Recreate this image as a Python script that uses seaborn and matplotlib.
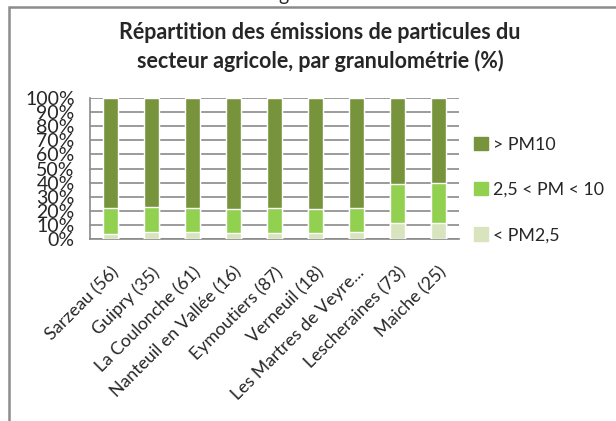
import numpy as np
import pandas as pd
import matplotlib
matplotlib.use("Agg")
import matplotlib.pyplot as plt
import matplotlib.patches as mpatches
import seaborn as sns

# Data
communes = ["Sarzeau (56)", "Guipry (35)", "La Coulonche (61)", "Nanteuil en Vallée (16)",
            "Eymoutiers (87)", "Verneuil (18)", "Les Martres de Veyre...",
            "Lescheraines (73)", "Maiche (25)"]
pm25 = [3.8, 5.0, 5.2, 4.0, 4.0, 4.0, 4.7, 11.1, 11.1]          # < PM2,5
pm25_10 = [18.4, 17.9, 17.0, 17.5, 18.2, 17.3, 17.6, 28.2, 28.9]  # 2,5 < PM < 10
pm10 = [77.8, 77.1, 77.8, 78.5, 77.8, 78.7, 77.7, 60.7, 60.0]      # > PM10

labels = ["> PM10", "2,5 < PM < 10", "< PM2,5"]
colors = {"> PM10": "#77933C", "2,5 < PM < 10": "#92D050", "< PM2,5": "#D7E4BD"}

df = pd.DataFrame({"commune": communes, "pm25": pm25, "pm25_10": pm25_10, "pm10": pm10})
df["c1"] = df["pm25"]
df["c2"] = df["pm25"] + df["pm25_10"]
df["c3"] = df["c2"] + df["pm10"]

sns.set_style("white")
plt.rcParams["font.family"] = ["Lato", "DejaVu Sans"]

fig = plt.figure(figsize=(6.16, 4.21), dpi=100)
ax = fig.add_axes([90 / 616, 1 - 239 / 421, 369 / 616, 141 / 421])

# stacked bars: draw cumulative totals from the top segment down
sns.barplot(data=df, x="commune", y="c3", color=colors["> PM10"], width=0.37,
            saturation=1, ax=ax, zorder=3)
sns.barplot(data=df, x="commune", y="c2", color=colors["2,5 < PM < 10"], width=0.37,
            saturation=1, ax=ax, zorder=3)
sns.barplot(data=df, x="commune", y="c1", color=colors["< PM2,5"], width=0.37,
            saturation=1, ax=ax, zorder=3)

grid_col = "#8a8a8a"
ax.set_ylim(0, 100)
ax.set_xlim(-0.5, len(communes) - 0.5)
ax.set_yticks(np.arange(0, 101, 10))
ax.set_yticklabels([f"{v}%" for v in range(0, 101, 10)], fontsize=14)
ax.yaxis.grid(True, color=grid_col, lw=1.2, zorder=0)
ax.set_axisbelow(True)
ax.set_xlabel("")
ax.set_ylabel("")

# category separators on x axis
ax.set_xticks(np.arange(len(communes)))
ax.set_xticklabels(communes, rotation=45, ha="right", rotation_mode="anchor", fontsize=12.8)
ax.set_xticks(np.arange(-0.5, len(communes), 1), minor=True)
ax.tick_params(axis="x", which="major", length=0, pad=18)
ax.tick_params(axis="x", which="minor", length=6, color=grid_col, width=1.2)
ax.tick_params(axis="y", length=7, color=grid_col, width=1.2, pad=4)

for s in ["top", "right"]:
    ax.spines[s].set_visible(False)
for s in ["left", "bottom"]:
    ax.spines[s].set_color(grid_col)
    ax.spines[s].set_linewidth(1.2)

fig.text(320 / 616, 1 - 47 / 421,
         "Répartition des émissions de particules du\nsecteur agricole, par granulométrie (%)",
         ha="center", va="center", fontsize=15.5, fontweight="bold", linespacing=1.4)

handles = [mpatches.Patch(color=colors[l], label=l) for l in labels]
fig.legend(handles=handles, loc="center left", bbox_to_anchor=(458 / 616, 1 - 190 / 421),
           frameon=False, fontsize=12.8, handlelength=0.78, handleheight=0.78,
           handletextpad=0.3, labelspacing=1.65)

# outer chart frame (cropped on right and bottom)
fig.patches.append(mpatches.Rectangle((8.5 / 616, -0.1), 1.2, 1 - 7.5 / 421 + 0.1,
                                      fill=False, edgecolor="#8c8c8c", lw=1.8,
                                      transform=fig.transFigure, figure=fig))
fig.text(283 / 616, 1 - 0.5 / 421, "g", ha="center", va="baseline", fontsize=14)

fig.savefig("out.png", dpi=100)
